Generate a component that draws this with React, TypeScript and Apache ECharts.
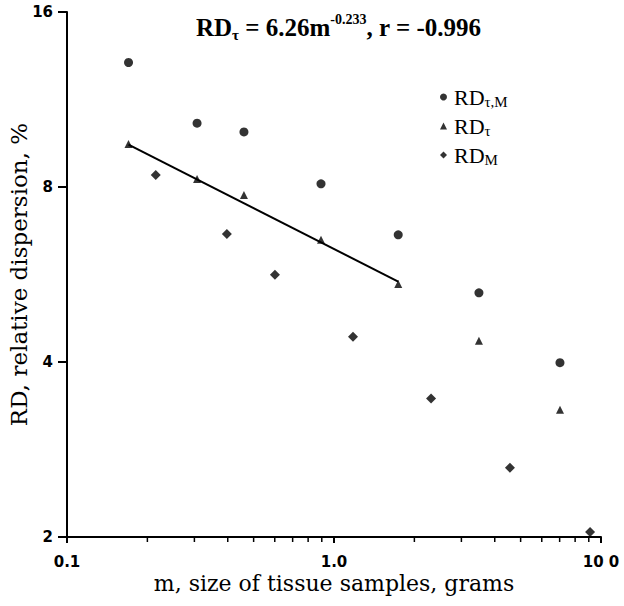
import React, { useEffect, useRef } from "react";
import * as echarts from "echarts";

// sample mass m (grams) and relative dispersions (%)
const massTM = [0.17, 0.307, 0.46, 0.894, 1.74, 3.49, 7.02];
const rdTM = [13.1, 10.3, 9.95, 8.1, 6.62, 5.26, 3.99];
const massT = [0.17, 0.307, 0.46, 0.894, 1.74, 3.49, 7.02];
const rdT = [9.49, 8.26, 7.75, 6.49, 5.45, 4.35, 3.31];
const massM = [0.215, 0.397, 0.601, 1.178, 2.31, 4.56, 9.1];
const rdM = [8.39, 6.64, 5.65, 4.42, 3.46, 2.63, 2.04];
// fitted power-law line RD_tau = 6.26 m^-0.233 (end points)
const fitMass = [0.17, 1.74];
const fitRD = [9.46, 5.5];

const xTickValues = [0.1, 1, 10];
const xTickLabels = ["0.1", "1.0", "10 0"];
const xMinorTicks = [0.2, 0.3, 0.4, 0.5, 0.6, 0.7, 0.8, 0.9, 2, 3, 4, 5, 6, 7, 8, 9];
const yTickValues = [2, 4, 8, 16];

const seriesNames = ["RDτ,M", "RDτ", "RDM"];
const legendLabels = ["{m|RD}{s|τ,M}", "{m|RD}{s|τ}", "{m|RD}{s|M}"];

const SERIF = "'Liberation Serif', 'Times New Roman', serif";
const WSERIF = "'DejaVu Serif', serif";
const SANS = "'DejaVu Sans', Arial, sans-serif";

export default function App() {
  const ref = useRef<HTMLDivElement>(null);
  useEffect(() => {
    if (!ref.current) return;
    const chart = echarts.init(ref.current, null, { renderer: "svg" });
    const zip = (a: number[], b: number[]) => a.map((v, i) => [v, b[i]]);
    chart.setOption({
      animation: false,
      backgroundColor: "#fff",
      title: {
        text: "{b|RD}{sub|τ}{b| = 6.26m}{sup|-0.233}{b|, r = -0.996}",
        left: 191,
        top: 7,
        textStyle: {
          rich: {
            b: { fontFamily: SERIF, fontWeight: "bold", fontSize: 25, color: "#000", lineHeight: 30 },
            sub: { fontFamily: SERIF, fontWeight: "bold", fontSize: 15, color: "#000", verticalAlign: "bottom", lineHeight: 18 },
            sup: { fontFamily: SERIF, fontWeight: "bold", fontSize: 14, color: "#000", verticalAlign: "top", lineHeight: 14 },
          },
        },
      },
      legend: {
        orient: "vertical",
        left: 435,
        top: 81,
        itemWidth: 7,
        itemHeight: 7,
        itemGap: 6,
        data: [
          { name: seriesNames[0], icon: "circle" },
          { name: seriesNames[1], icon: "triangle" },
          { name: seriesNames[2], icon: "diamond" },
        ],
        formatter: (name: string) => legendLabels[seriesNames.indexOf(name)],
        textStyle: {
          color: "#000",
          padding: [0, 0, 0, 2],
          rich: {
            m: { fontFamily: SERIF, fontSize: 22, color: "#000", lineHeight: 24 },
            s: { fontFamily: SERIF, fontSize: 15, color: "#000", verticalAlign: "bottom", lineHeight: 16 },
          },
        },
      },
      grid: { left: 67, right: 23, top: 12, bottom: 69, containLabel: false, outerBoundsMode: "none" },
      xAxis: {
        type: "log",
        logBase: 10,
        min: 0.1,
        max: 10,
        splitNumber: 2,
        name: "m, size of tissue samples, grams",
        nameLocation: "middle",
        nameGap: 35,
        nameMoveOverlap: false,
        nameTextStyle: { fontFamily: WSERIF, fontSize: 22, color: "#000" },
        axisLine: { show: true, lineStyle: { color: "#000", width: 2 } },
        axisTick: { show: true, inside: false, length: 6, lineStyle: { color: "#000", width: 2 } },
        axisLabel: {
          margin: 17,
          color: "#000",
          fontFamily: SANS,
          fontWeight: "bold",
          fontSize: 15,
          formatter: (v: number) => {
            const i = xTickValues.findIndex((t) => Math.abs(Math.log10(t) - Math.log10(v)) < 1e-6);
            return i >= 0 ? xTickLabels[i] : "";
          },
        },
        splitLine: { show: false },
      },
      yAxis: {
        type: "log",
        logBase: 2,
        min: 2,
        max: 16,
        splitNumber: 3,
        name: "RD, relative dispersion, %",
        nameLocation: "middle",
        nameGap: 37,
        nameMoveOverlap: false,
        nameRotate: 90,
        nameTextStyle: { fontFamily: WSERIF, fontSize: 23, color: "#000" },
        axisLine: { show: true, lineStyle: { color: "#000", width: 2 } },
        axisTick: { show: true, inside: false, length: 9, lineStyle: { color: "#000", width: 2 } },
        axisLabel: {
          margin: 14,
          color: "#000",
          fontFamily: SANS,
          fontWeight: "bold",
          fontSize: 15,
          formatter: (v: number) => {
            const i = yTickValues.findIndex((t) => Math.abs(t - v) < 1e-6 * t);
            return i >= 0 ? String(yTickValues[i]) : "";
          },
        },
        splitLine: { show: false },
      },
      series: [
        {
          name: seriesNames[0],
          type: "scatter",
          symbol: "circle",
          symbolSize: 9,
          itemStyle: { color: "#000" },
          data: zip(massTM, rdTM),
        },
        {
          name: seriesNames[1],
          type: "scatter",
          symbol: "triangle",
          symbolSize: 8,
          itemStyle: { color: "#000" },
          data: zip(massT, rdT),
        },
        {
          name: seriesNames[2],
          type: "scatter",
          symbol: "diamond",
          symbolSize: 10,
          itemStyle: { color: "#000" },
          data: zip(massM, rdM),
        },
        {
          name: "fit",
          type: "line",
          showSymbol: false,
          symbol: "none",
          lineStyle: { color: "#000", width: 2 },
          data: zip(fitMass, fitRD),
          z: 1,
        },
        {
          name: "minorTicks",
          type: "custom",
          silent: true,
          clip: false,
          z: 10,
          data: xMinorTicks.map((v) => [v, 2]),
          renderItem: (_params: any, api: any) => {
            const p = api.coord([api.value(0), 2]);
            return {
              type: "line",
              shape: { x1: p[0], y1: p[1], x2: p[0], y2: p[1] + 5 },
              style: { stroke: "#000", lineWidth: 1.5 },
            };
          },
        },
      ],
    });
    return () => chart.dispose();
  }, []);
  return (
    <div
      ref={ref}
      style={{ position: "fixed", left: 0, top: 0, width: 624, height: 606, background: "#fff" }}
    />
  );
}
